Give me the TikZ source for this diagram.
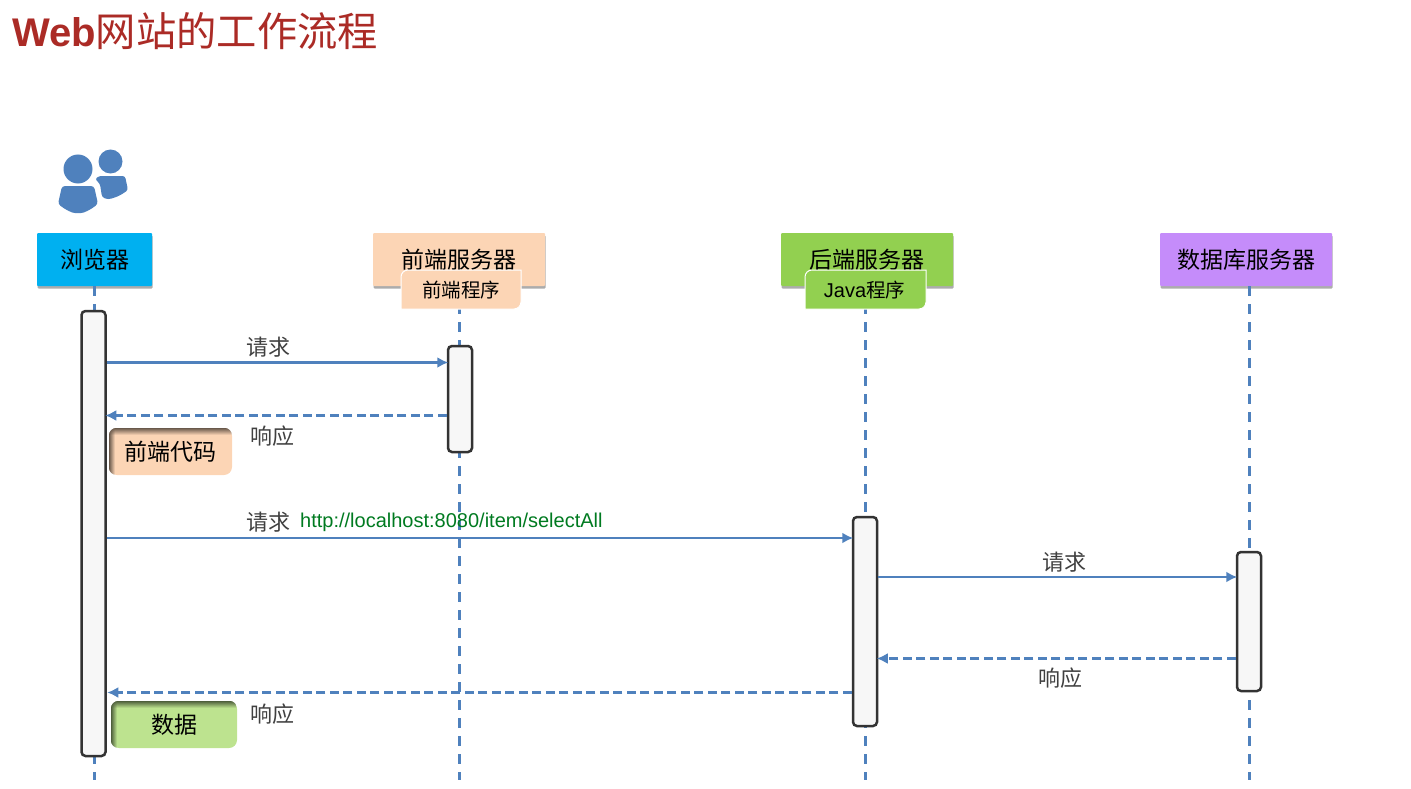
\documentclass[tikz,border=0pt]{standalone}
\usepackage{fontspec}
\usepackage{xcolor}
\setmainfont{Liberation Sans}
\newfontfamily\cjk{Noto Sans CJK SC}
\usetikzlibrary{arrows.meta,positioning,calc,shadows,fadings}
\definecolor{linkblue}{HTML}{4F81BD}
\definecolor{peach}{HTML}{FCD5B5}
\definecolor{leaf}{HTML}{92D050}
\definecolor{lilac}{HTML}{C58CFA}
\definecolor{sky}{HTML}{00B0F0}
\definecolor{palegreen}{HTML}{BDE38F}
\definecolor{titlered}{HTML}{AB2B26}
\definecolor{urlgreen}{HTML}{007A20}

\begin{document}
\begin{tikzpicture}[
    x=1pt, y=-1pt,
    server/.style={rounded corners=1pt, inner sep=0pt, minimum height=53pt, text=black,
      font=\cjk\fontsize{23}{27}\selectfont,
      drop shadow={shadow xshift=0.6pt, shadow yshift=-2.5pt, opacity=.65}},
    lifeline/.style={linkblue, line width=3pt, dash pattern=on 10pt off 8pt},
    tagbox/.style={draw=white, line width=1pt},
    taglabel/.style={inner sep=0pt, text=black, font=\fontsize{20}{24}\selectfont},
    activation/.style={draw=black!80, line width=2.5pt, fill=black!3, rounded corners=4pt,
      inner sep=0pt, minimum width=24pt},
    msg/.style={-{Latex[length=11pt,width=11pt]}, linkblue, line width=2.4pt, shorten >=-1.5pt},
    reply/.style={msg, dash pattern=on 9pt off 4.5pt},
    msglabel/.style={inner sep=0pt, text=black!75, font=\cjk\fontsize{22}{26}\selectfont},
    result/.style={rounded corners=8pt, inner sep=0pt, minimum height=47pt, text=black,
      font=\cjk\fontsize{23}{27}\selectfont}
  ]
    \useasboundingbox (0,0) rectangle (1411,789);

    % Title
    \node[inner sep=0pt, anchor=west, text=titlered] (title) at (12,31)
      {\fontsize{40}{48}\selectfont\textbf{Web}\cjk\fontsize{40.3}{48}\selectfont 网站的工作流程};

    % Users icon
    \fill[linkblue] (110.5,161.5) circle[radius=12];
    \fill[linkblue, rounded corners=2.5pt] (95,179) -- (99,176) -- (125,176) -- (128,190)
      .. controls (120,196) and (112,199) .. (106,199) -- (102,197) -- (100,184) -- cycle;
    \fill[linkblue] (78,169) circle[radius=14.5];
    \fill[linkblue, rounded corners=3pt] (62,186) -- (94,186) -- (98,204)
      .. controls (90,210) and (84,213) .. (78,213) .. controls (72,213) and (66,210) .. (58,204) -- cycle;

    % Server boxes
    \node[server, fill=sky, minimum width=115pt] (browser) at (94.5,259.5) {浏览器};
    \node[server, fill=peach, minimum width=172pt] (front) at (459,259.5) {前端服务器};
    \node[server, fill=leaf, minimum width=172pt] (back) at (867,259.5) {后端服务器};
    \node[server, fill=lilac, minimum width=172pt] (db) at (1246,259.5) {数据库服务器};

    % Vertical lifelines
    \coordinate (bottom) at (0,780);
    \draw[lifeline] (browser.south) -- (browser.south |- bottom);
    \draw[lifeline] ($(front.south)+(0.5,0)$) -- ($(front.south |- bottom)+(0.5,0)$);
    \draw[lifeline] ($(back.south)+(-2,0)$) -- ($(back.south |- bottom)+(-2,0)$);
    \draw[lifeline] ($(db.south)+(3,0)$) -- ($(db.south |- bottom)+(3,0)$);

    % Program tags
    \draw[tagbox, fill=peach] (401,309) [rounded corners=7pt] -- (401,270) [sharp corners] -- (521,270)
      [rounded corners=7pt] -- (521,309) [sharp corners] -- cycle;
    \node[taglabel, font=\cjk\fontsize{19.5}{24}\selectfont] (fronttag) at (461,290) {前端程序};
    \draw[tagbox, fill=leaf] (805,309) [rounded corners=7pt] -- (805,270) [sharp corners] -- (926,270)
      [rounded corners=7pt] -- (926,309) [sharp corners] -- cycle;
    \node[taglabel] (backtag) at (864.5,290) {Java{\cjk\fontsize{19.5}{24}\selectfont 程序}};

    % Activation bars
    \node[activation, minimum height=445pt] (bb) at (93.5,533.5) {};
    \node[activation, minimum height=106pt] (fb) at (460,399) {};
    \node[activation, minimum height=209pt] (kb) at (865,621.5) {};
    \node[activation, minimum height=139pt] (sb) at (1249,621.5) {};

    % Message y-levels
    \coordinate (y1) at (0,362.5);
    \coordinate (y2) at (0,415.5);
    \coordinate (y3) at (0,538);
    \coordinate (y4) at (0,577);
    \coordinate (y5) at (0,658.5);
    \coordinate (y6) at (0,692.5);

    % Messages
    \draw[msg] (bb.east |- y1) -- (fb.west |- y1);
    \draw[reply] (fb.west |- y2) -- (bb.east |- y2);
    \draw[msg] (bb.east |- y3) -- (kb.west |- y3);
    \draw[msg] (kb.east |- y4) -- (sb.west |- y4);
    \draw[reply] (sb.west |- y5) -- (kb.east |- y5);
    \draw[reply] (kb.west |- y6) -- ($(bb.east |- y6)+(2,0)$);

    % Message labels
    \node[msglabel] (req1) at (268,347) {请求};
    \node[msglabel] (res1) at (272,436) {响应};
    \node[msglabel] (req2) at (268.5,522) {请求};
    \node[inner sep=0pt, anchor=west, text=urlgreen, font=\fontsize{20}{24}\selectfont] (url) at (300,522.5)
      {http://localhost:8080/item/selectAll};
    \node[msglabel] (req3) at (1064,562) {请求};
    \node[msglabel] (res2) at (1060.5,678) {响应};
    \node[msglabel] (res3) at (272.5,714) {响应};

    % Result boxes with inner shadow
    \node[result, fill=peach, minimum width=123pt] (code) at (170.5,451.5) {};
    \begin{scope}
      \clip[rounded corners=8pt] (code.north west) rectangle (code.south east);
      \fill[black!60!peach, path fading=south] (code.north west) rectangle ($(code.north east)+(0,7)$);
      \fill[black!60!peach, path fading=east] (code.north west) rectangle ($(code.south west)+(6,0)$);
    \end{scope}
    \node[inner sep=0pt, text=black, font=\cjk\fontsize{23}{27}\selectfont] (codetext) at (code.center) {前端代码};
    \node[result, fill=palegreen, minimum width=126pt] (data) at (174,724.5) {};
    \begin{scope}
      \clip[rounded corners=8pt] (data.north west) rectangle (data.south east);
      \fill[black!60!palegreen, path fading=south] (data.north west) rectangle ($(data.north east)+(0,7)$);
      \fill[black!60!palegreen, path fading=east] (data.north west) rectangle ($(data.south west)+(6,0)$);
    \end{scope}
    \node[inner sep=0pt, text=black, font=\cjk\fontsize{23}{27}\selectfont] (datatext) at (data.center) {数据};
\end{tikzpicture}
\end{document}
